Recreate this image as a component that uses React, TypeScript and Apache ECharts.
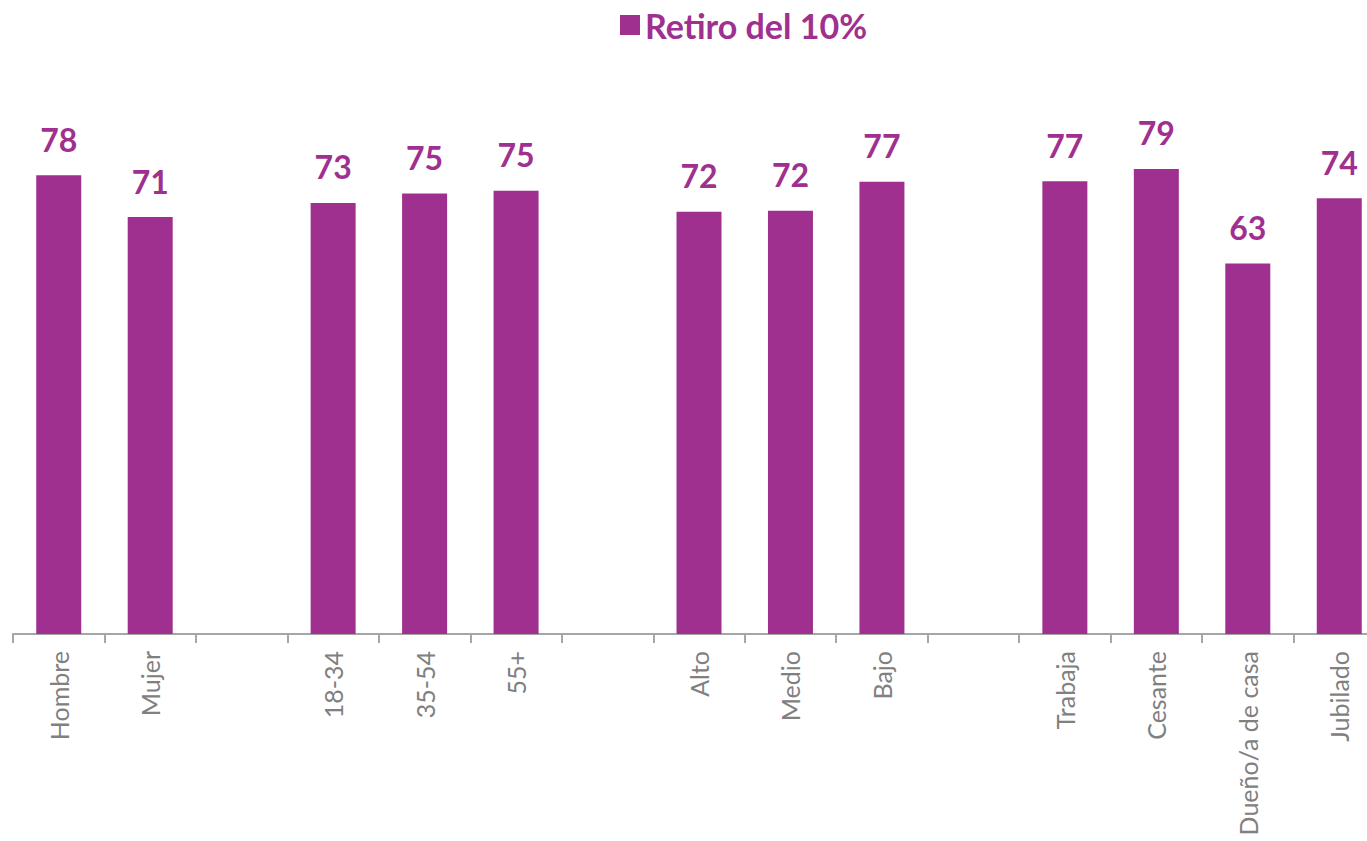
import React, { useEffect, useRef } from "react";
import * as echarts from "echarts";

const seriesName = "Retiro del 10%";
const categories = [
  "Hombre", "Mujer", " ",
  "18-34", "35-54", "55+", "  ",
  "Alto", "Medio", "Bajo", "   ",
  "Trabaja", "Cesante", "Dueño/a de casa", "Jubilado",
];
const values: (number | null)[] = [
  78.0, 70.9, null,
  73.3, 74.9, 75.4, null,
  71.8, 72.0, 76.9, null,
  77.0, 79.1, 63.0, 74.1,
];

const PURPLE = "#A0308F";
const FONT = "Lato, 'Open Sans', sans-serif";

export default function App() {
  const ref = useRef<HTMLDivElement>(null);
  useEffect(() => {
    if (!ref.current) return;
    const chart = echarts.init(ref.current, null, { renderer: "svg" });
    chart.setOption({
      animation: false,
      backgroundColor: "#ffffff",
      legend: {
        show: true,
        left: 615,
        top: 3,
        itemWidth: 20,
        itemHeight: 20,
        itemGap: 8,
        icon: "rect",
        textStyle: { color: PURPLE, fontSize: 34, fontWeight: "bold", fontFamily: FONT },
        data: [seriesName],
      },
      grid: { left: 13, right: 0, top: 46, bottom: 207, containLabel: false },
      xAxis: {
        type: "category",
        data: categories,
        boundaryGap: true,
        axisLine: { show: true, lineStyle: { color: "#A6A6A6", width: 2 } },
        axisTick: { show: true, interval: 0, length: 9, lineStyle: { color: "#A6A6A6", width: 2 } },
        axisLabel: {
          interval: 0,
          rotate: 90,
          margin: 17,
          color: "#808080",
          fontSize: 25,
          fontFamily: FONT,
        },
      },
      yAxis: {
        type: "value",
        min: 0,
        max: 100,
        show: false,
        splitLine: { show: false },
      },
      series: [
        {
          name: seriesName,
          type: "bar",
          data: values,
          barWidth: 45,
          itemStyle: { color: PURPLE },
          label: {
            show: true,
            position: "top",
            distance: 20,
            color: PURPLE,
            fontSize: 32,
            fontWeight: "bold",
            fontFamily: FONT,
            formatter: (p: any) => (p.value == null ? "" : String(Math.round(p.value))),
          },
        },
      ],
    });
    return () => chart.dispose();
  }, []);
  return (
    <div
      style={{
        position: "fixed",
        left: 0,
        top: 0,
        width: 1367,
        height: 841,
        overflow: "hidden",
        background: "#fff",
      }}
    >
      <div ref={ref} style={{ width: 1385, height: 841 }} />
    </div>
  );
}
